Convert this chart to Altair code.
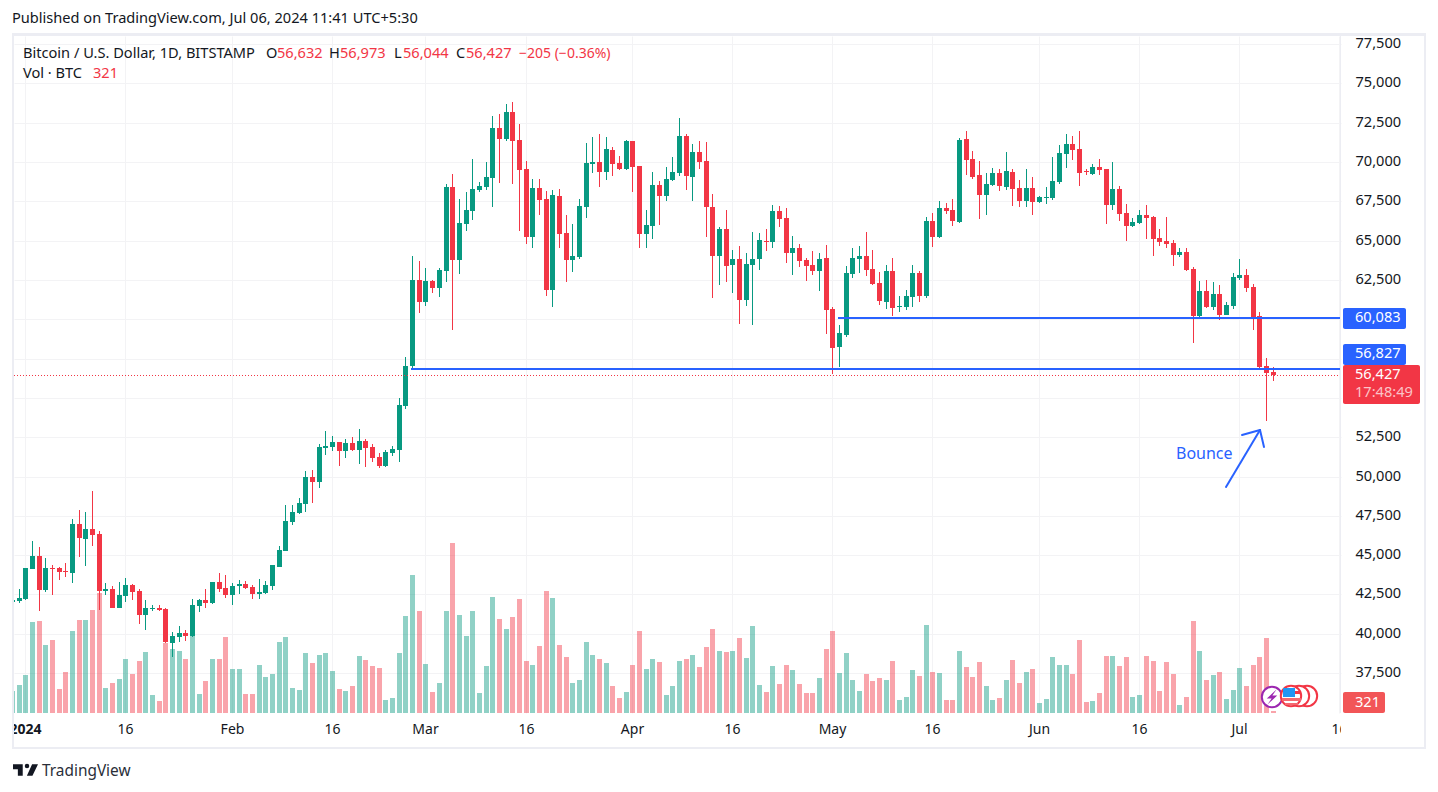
import altair as alt
import pandas as pd

FONT = "Noto Sans"
GREEN = "#089981"
RED = "#F23645"
BLUE = "#2962FF"
INK = "#131722"
GRID = "#f3f3f5"
EDGE = "#ecedf3"

# ---- daily candles, 30 Dec 2023 .. 6 Jul 2024 (USD) ----
opens = [42019, 42082,
    42210,44118,44944,42782,44181,44181,43990,43863,46980,46025,46662,46344,42718,42846,41637,42400,43100,42718,41192,41574,41637,41574,39409,39791,40045,39854,41762,42144,41953,43289,42907,
    42462,43034,43162,42971,42528,42591,43036,44245,45262,47107,47679,48252,49969,49651,51813,51877,52195,51622,52131,51686,52258,51877,51241,50668,51495,51686,54484,57050,62503,
    61104,62440,61994,63075,68418,63775,66064,66891,68227,68418,68990,72170,71471,73188,71407,69563,65238,68354,67655,61867,67845,65492,63775,63966,67146,69880,70008,69372,70771,69944,69562,
    71343,69753,65429,65937,68545,67845,68863,69308,71661,69053,70643,70070,67145,64028,65746,63456,63838,61230,63456,63838,64982,64919,66890,66445,64219,64537,63774,63456,63074,63901,
    60658,58240,59004,62884,63837,64028,63201,62311,61103,63074,60785,60785,61421,62947,61484,66254,65237,67081,66954,66191,71470,70198,69180,67908,68544,69307,68417,69371,68353,67526,68353,
    67463,67717,67717,68735,70516,71152,70834,69434,69243,69689,69562,67272,68290,66763,65936,66127,66636,66509,65173,64982,64855,64092,64282,63201,60212,61802,60785,61611,60276,60848,
    62629,62820,62057,60212,57032,56632]
highs = [42200, 42846,
    44200,45898,45517,44817,44372,44245,44499,47298,47870,47743,49078,46534,43227,43036,43291,43545,43164,42846,42146,41828,41828,41650,40109,40490,40236,42208,42208,42844,43289,43861,43734,
    43225,43416,43352,43098,43482,43354,44400,45580,48188,48188,48633,50350,50414,52068,52894,52576,52195,52386,52513,53022,52386,52068,51495,51686,51940,55000,57600,64029,63711,
    63266,62503,63266,68608,69245,67655,68100,70199,68736,70008,72933,73061,73697,73824,72425,70071,68927,68927,68163,68227,68291,66637,66065,67655,71216,71598,71789,71598,70962,70389,71407,
    71343,69753,66955,69372,68800,69690,70326,72806,71789,71152,71342,71279,67972,65873,66954,64410,64664,64219,65555,65491,65745,67272,67208,67081,65300,64791,63901,64346,64219,64728,
    60785,59640,63392,64537,64664,65555,64410,63011,63456,63901,61484,61866,63456,63074,66509,66763,67526,67399,67654,71533,71978,70706,70070,69307,69625,69562,70643,69562,68862,69562,69053,
    67845,68417,70325,71088,71788,71660,71978,69562,69880,70198,69562,70007,68480,67335,66445,66954,67272,66572,65745,66509,65046,64537,64537,63329,62438,62502,62375,62184,61102,62947,
    63837,63201,62248,60466,57541,56973]
lows = [41950, 41955,
    42150,44100,41447,42655,42464,43418,43609,43227,44881,44308,45580,41510,42464,41637,41637,42019,42146,40620,40238,41447,41447,39400,38519,39473,39536,39791,41381,41635,41890,42653,42271,
    41826,42526,42844,42208,42210,42528,42782,44245,45262,46916,47616,47743,48315,49269,51368,51622,50668,51177,51600,50796,50605,50923,50541,50605,51304,50923,54300,56800,60404,
    60849,61676,61422,62376,59323,62884,65619,66319,68100,68227,67146,68672,71343,68609,65619,64793,64538,66637,61485,60786,64538,62376,63012,63839,66446,69308,68418,68863,69117,69500,69500,
    68100,64538,64538,65111,65999,67527,68800,69117,68227,67526,69562,65237,61357,62184,62375,61675,59704,60848,59640,63138,64346,64537,65873,63583,62820,63329,62438,62820,61802,59068,
    56523,56969,58877,62629,62947,62756,62200,60912,60658,60212,60467,60594,60785,61103,61357,64600,65173,66700,65936,66127,69180,68926,66382,66636,68500,68162,68226,67208,67145,67145,66636,
    67399,67336,67590,68608,69625,70134,68480,69180,69180,69180,66064,66954,66254,64982,65873,66064,65110,64028,64664,64537,63392,63965,63100,58495,60150,60721,60594,59958,60250,60658,
    62502,61739,59322,56778,53534,56044]
closes = [42146, 42273,
    44181,44944,42782,44181,44118,43927,43927,46980,46089,46662,46280,42718,42846,41637,42464,43100,42655,41192,41637,41637,41510,39473,39854,40045,39854,41826,42144,41953,43289,42844,42462,
    43034,43162,42907,42526,42655,43100,44372,45326,47170,47743,48315,49969,49651,51877,51940,52195,51622,52131,51686,52258,51813,51177,50668,51559,51750,54548,57029,62503,61104,
    62440,61994,63139,68418,63775,66128,66955,68291,68481,69054,72170,71471,73188,71343,69499,65238,68354,67591,61867,67909,65429,63775,64029,67209,69944,70008,69372,70835,69881,69562,71343,
    69690,65429,65997,68545,67845,68927,69372,71661,69117,70643,70007,67145,64028,65746,63392,63838,61230,63520,63838,65046,64919,66890,66382,64219,64537,63710,63392,63074,63838,60594,
    58177,59131,62947,63901,64028,63138,62248,61166,63074,60721,60848,61484,62947,61484,66254,65237,67081,66890,66254,71406,70134,69053,67908,68608,69307,68480,69434,68290,67526,68353,67463,
    67781,67781,68798,70579,71152,70770,69307,69371,69689,69498,67272,68290,66700,65936,66191,66636,66445,65110,64919,64791,64092,64282,63138,60212,61802,60785,61611,60276,60912,62693,
    62820,61993,60085,56969,56587,56427]
# volume, in multiples of 53.5 BTC
volumes = [66, 84,
    114,273,276,204,219,72,123,246,279,279,309,360,75,90,102,162,117,156,183,54,36,210,192,186,162,246,57,96,162,162,228,
    132,132,57,57,144,108,117,213,228,75,69,180,150,174,180,126,72,66,81,171,159,141,135,39,45,180,291,414,306,
    147,63,90,306,510,294,231,306,60,141,348,282,252,288,342,156,144,201,366,345,204,168,90,99,213,174,162,150,81,45,63,
    144,246,132,162,153,54,81,156,162,174,138,198,252,186,183,186,225,165,261,84,63,141,87,144,129,87,60,60,105,192,
    246,120,180,99,66,117,96,105,99,156,39,48,129,111,264,123,120,39,39,186,138,108,153,81,39,45,99,159,90,123,132,
    30,42,168,144,144,117,219,33,36,60,171,171,141,168,48,54,171,156,66,153,117,24,48,276,186,99,114,123,42,69,
    135,81,144,168,225,6]

tick_days = [0, 15, 31, 46, 60, 75, 91, 106, 121, 136, 152, 167, 182, 197]
tick_text = ["2024", "16", "Feb", "16", "Mar", "16", "Apr", "16", "May", "16", "Jun", "16", "Jul", "16"]
price_ticks = list(range(37500, 77501, 2500))
hidden_ticks = [60000, 57500, 55000]   # sit behind the price tags

level_days = [121.8, 57.8]
level_prices = [60083, 56827]
last_price = 56427

# plot rectangle on the page
L, T, R, B = 14, 36, 1341, 713
W, H = R - L, B - T
X_DOMAIN = [-1.694, 197.26]
Y_DOMAIN = [34956, 78021]
V_DOMAIN = [0, 108659]

days = list(range(-2, -2 + len(opens)))
df = pd.DataFrame({"day": days, "o": opens, "h": highs, "l": lows, "c": closes,
                   "v": [v * 53.5 for v in volumes]})
df["dir"] = ["up" if c >= o else "down" for o, c in zip(df.o, df.c)]

xs = alt.Scale(domain=X_DOMAIN, range=[0, W], round=True, nice=False, zero=False, padding=0)
ys = alt.Scale(domain=Y_DOMAIN, nice=False, zero=False, round=True)
vs = alt.Scale(domain=V_DOMAIN, nice=False, zero=False, round=True)
cs = alt.Scale(domain=["up", "down"], range=[GREEN, RED])

label_expr = "[" + ",".join(f"'{t}'" for t in tick_text) + "][indexof([" + ",".join(map(str, tick_days)) + "],datum.value)]"
x_axis = alt.Axis(values=tick_days, labelExpr=label_expr, title=None, grid=True, gridColor=GRID, gridWidth=1,
                  domain=False, ticks=False, labelFont=FONT, labelFontSize=14, labelColor=INK,
                  labelPadding=9, labelOverlap=False, labelFlush=False,
                  labelFontWeight={"condition": {"test": "datum.value == 0", "value": "bold"}, "value": "normal"})
X = alt.X("day:Q", scale=xs, axis=x_axis)
y_expr = "indexof([" + ",".join(map(str, hidden_ticks)) + "],datum.value) >= 0 ? '' : format(datum.value, ',.0f')"
Yaxis = alt.Axis(values=price_ticks, labelExpr=y_expr, orient="right", title=None, grid=True, gridColor=GRID, gridWidth=1,
                 domain=False, ticks=False, labelFont=FONT, labelFontSize=14.6, labelColor=INK, labelPadding=14,
                 labelOffset=-1, labelOverlap=False, labelFlush=False)

base = alt.Chart(df)
color = alt.Color("dir:N", scale=cs, legend=None)

vol = base.mark_bar(size=5, opacity=0.45, clip=True, xOffset=0.5).encode(
    x=X, y=alt.Y("v:Q", scale=vs, axis=None), y2=alt.value(H), color=color)
wick = base.mark_bar(size=1, clip=True, xOffset=0.5).encode(
    x=X, y=alt.Y("h:Q", scale=ys, axis=Yaxis), y2="l:Q", color=color)
body = base.mark_bar(size=5, clip=True, xOffset=0.5).encode(
    x=X, y=alt.Y("o:Q", scale=ys, axis=None), y2="c:Q", color=color)

levels = alt.Chart(pd.DataFrame({"day": level_days, "end": [X_DOMAIN[1]] * 2, "p": level_prices})).mark_rule(
    color=BLUE, strokeWidth=2).encode(x=X, x2="end:Q", y=alt.Y("p:Q", scale=ys, axis=None))
last_line = alt.Chart(pd.DataFrame({"p": [last_price]})).mark_rule(
    color=RED, strokeWidth=1, strokeDash=[1, 2], yOffset=0.5).encode(y=alt.Y("p:Q", scale=ys, axis=None))

one = alt.Data(values=[{"a": 1}])


def rect(x0, y0, x1, y1, fill, **kw):
    return alt.Chart(one).mark_rect(fill=fill, **kw).encode(
        x=alt.value(x0 - L), x2=alt.value(x1 - L), y=alt.value(y0 - T), y2=alt.value(y1 - T))


def seg(x0, y0, x1, y1, stroke=BLUE, w=2):
    return alt.Chart(one).mark_rule(stroke=stroke, strokeWidth=w, strokeCap="round").encode(
        x=alt.value(x0 - L), x2=alt.value(x1 - L), y=alt.value(y0 - T), y2=alt.value(y1 - T))


def txt(s, x, y, color=INK, size=14.6, align="left", **kw):
    return alt.Chart(one).mark_text(text=s, font=FONT, fontSize=size, color=color, align=align,
                                    baseline="middle", **kw).encode(
        x=alt.value(x - L), y=alt.value(y - T))


def dot(x, y, size, fill, stroke=None, w=2):
    kw = {"stroke": stroke, "strokeWidth": w} if stroke else {"strokeWidth": 0}
    return alt.Chart(one).mark_point(shape="circle", filled=True, fill=fill, size=size, opacity=1, **kw).encode(
        x=alt.value(x - L), y=alt.value(y - T))


def glyph(path, x, y, size, fill):
    return alt.Chart(one).mark_point(shape=path, filled=True, fill=fill, size=size, opacity=1, strokeWidth=0).encode(
        x=alt.value(x - L), y=alt.value(y - T))


frame = [
    rect(12, 33, 1426, 36, EDGE), rect(12, 747, 1426, 749, EDGE),
    rect(1340, 36, 1341, 713, EDGE),
]
mask = [
    rect(1341, 714, 1424, 747, "#ffffff"), rect(0, 714, 14, 747, "#ffffff"),
    rect(12, 33, 14, 749, EDGE), rect(1424, 33, 1426, 749, EDGE),
]

boxes = [
    rect(1343, 308, 1406, 329, BLUE, cornerRadius=2),
    rect(1343, 344, 1406, 365, BLUE, cornerRadius=2),
    rect(1343, 365, 1420, 404, RED, cornerRadius=2),
    rect(1343, 692, 1385, 713, "#F25557", cornerRadius=2),
    txt("60,083", 1355, 318, "#ffffff"),
    txt("56,827", 1355, 354, "#ffffff"),
    txt("56,427", 1355, 375, "#ffffff"),
    txt("17:48:49", 1355, 393, "#fbc3c7"),
    txt("321", 1355, 703, "#ffffff"),
]

arrow = [
    seg(1226, 487, 1260, 430), seg(1242, 435, 1260, 430), seg(1260, 430, 1264, 447),
    txt("Bounce", 1176, 454, BLUE, 16),
]

icons = [
    dot(1272, 697, 415, "#ffffff", "#9C27B0"),
    glyph("M0.6 -1 L-0.7 0.2 H-0.05 L-0.6 1 L0.7 -0.2 H0.05 Z", 1272, 697, 225, "#9C27B0"),
    dot(1307, 696, 415, "#ffffff", RED),
    dot(1299, 696, 415, "#ffffff", RED),
    dot(1291, 696, 415, "#ffffff", RED),
    rect(1295, 691, 1301, 694, RED), rect(1282, 698, 1301, 701, "#F4686F"), rect(1285, 703, 1298, 705, "#F4686F"),
    rect(1283, 688, 1295, 697, "#2196F3"),
]

header = [
    txt("Published on TradingView.com, Jul 06, 2024 11:41 UTC+5:30", 12, 19),
    txt("Bitcoin / U.S. Dollar, 1D, BITSTAMP", 23, 54),
    txt("O", 266, 54), txt("56,632", 277, 54, RED),
    txt("H", 329, 54), txt("56,973", 340, 54, RED),
    txt("L", 394, 54), txt("56,044", 403, 54, RED),
    txt("C", 456, 54), txt("56,427", 466, 54, RED),
    txt("\u2212205 (\u22120.36%)", 519, 54, RED, 14),
    txt("Vol \u00b7 BTC", 23, 74), txt("321", 93, 74, RED),
]

logo = [
    glyph("M-0.222 -0.467 H-1 V-0.067 H-0.611 V0.467 H-0.222 Z M0.556 0.467 H0.111 L0.528 -0.467 H1 Z", 25.5, 770, 625, INK),
    dot(27, 766, 20, INK),
    txt("TradingView", 42, 771, "#2a2e39", 15.4),
]

layers = [vol, wick, body, levels, last_line] + frame + mask + boxes + arrow + icons + header + logo

chart = alt.layer(*layers).resolve_scale(y="independent", color="shared").properties(
    width=W, height=H,
    padding={"left": L - 8, "top": T - 8, "right": 1430 - R, "bottom": 784 - B},
    autosize=alt.AutoSizeParams(type="none"),
    background="#ffffff",
).configure_view(stroke=None)

chart.save("out.html", embed_options={"renderer": "svg", "actions": False})
